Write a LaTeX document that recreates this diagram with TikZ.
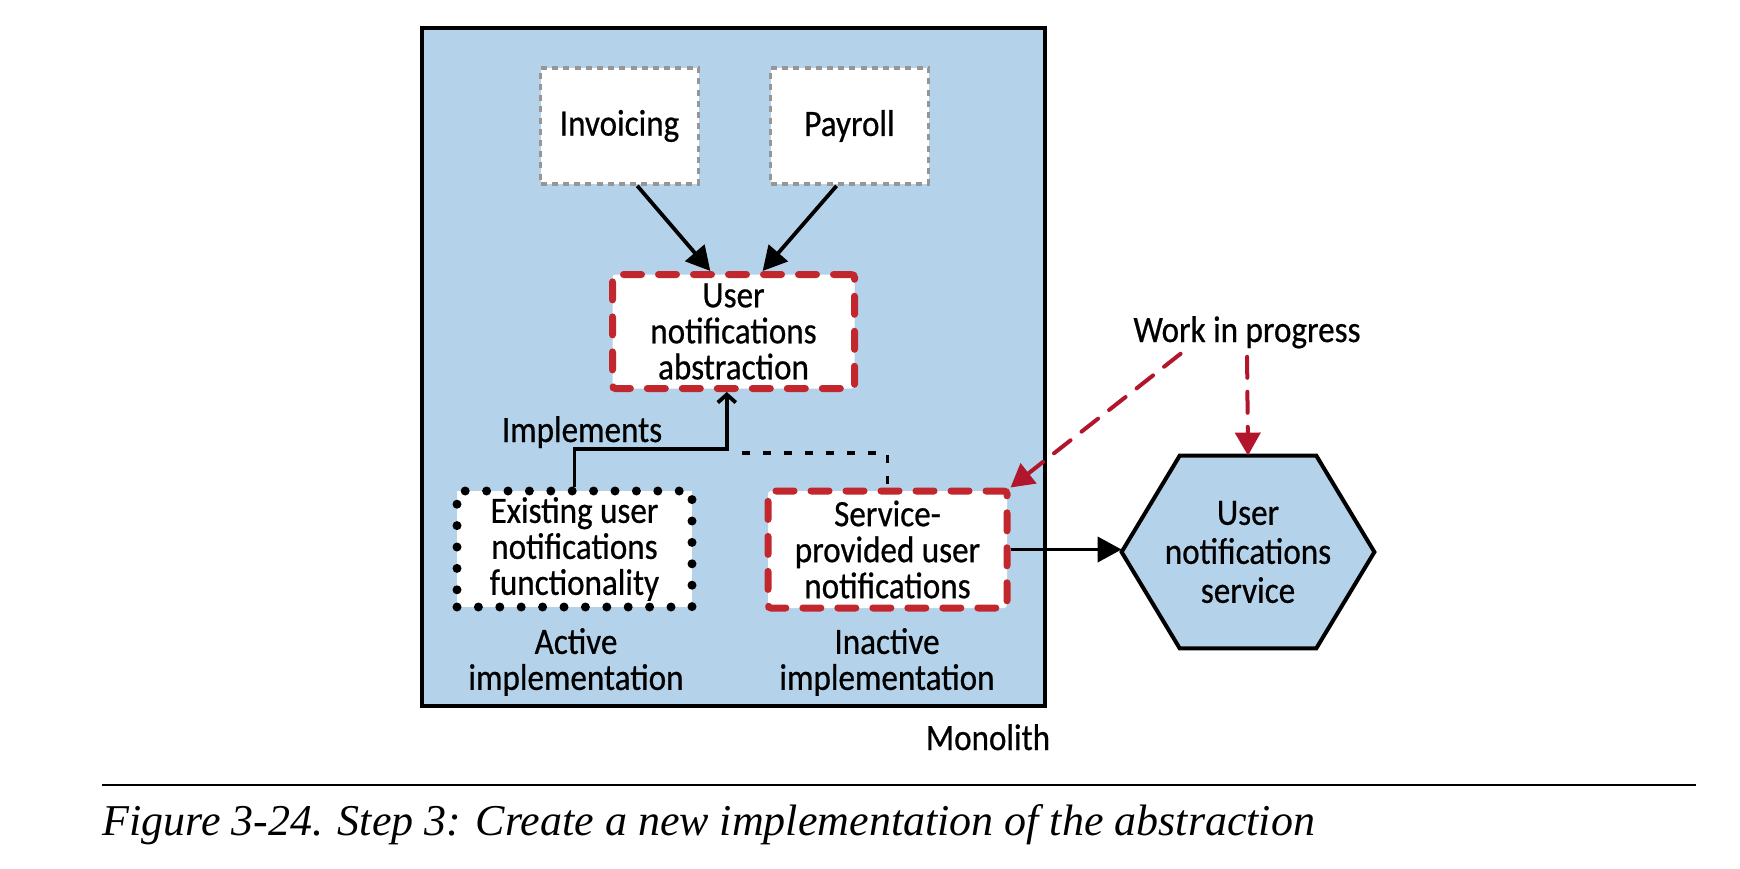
\documentclass[tikz,border=0pt]{standalone}
\usepackage{fontspec}
\setmainfont[FakeStretch=0.89,FakeBold=0.6]{Carlito}
\newfontfamily\capfont{Liberation Serif}
\usetikzlibrary{arrows.meta,calc,backgrounds}
\definecolor{monoblue}{RGB}{180,211,234}
\definecolor{boxred}{RGB}{193,39,45}
\definecolor{arrred}{RGB}{178,22,44}
\definecolor{boxgray}{RGB}{150,150,150}
\begin{document}
\begin{tikzpicture}[x=0.5pt,y=-0.5pt,
  lbl/.style={font=\fontsize{18.6}{18}\selectfont, inner sep=0pt, align=center},
  graybox/.style={lbl, draw=boxgray, line width=1.8pt, dash pattern=on 3pt off 2.6pt, fill=white, minimum width=79pt, minimum height=58pt},
  redbox/.style={lbl, draw=boxred, line width=3.5pt, line cap=round, dash pattern=on 9pt off 8.5pt, fill=white, rounded corners=1.5pt, minimum width=121pt, minimum height=57pt},
  dotbox/.style={lbl, draw=black, line width=4.5pt, line cap=round, dash pattern=on 0pt off 10.7pt, fill=white, minimum width=117.5pt, minimum height=58pt},
  arr/.style={line width=1.9pt, -{Triangle[length=12pt,width=12.5pt]}},
  redarr/.style={draw=arrred, line width=2pt, line cap=round, dash pattern=on 10.5pt off 7pt, -{Triangle[length=11.5pt,width=12.5pt]}},
]
\useasboundingbox (0,0) rectangle (1740,868);
% monolith
\node[draw, fill=monoblue, line width=2pt, minimum width=311.5pt, minimum height=339pt, inner sep=0pt] (mono) at (733.5,367) {};
\node[lbl, anchor=base] (monolbl) at (988,750) {Monolith};
% boxes
\node[graybox] (inv) at (619.5,126) {Invoicing};
\node[graybox] (pay) at (849.5,126) {Payroll};
\node[redbox] (abs) at (733.5,331.5) {User\\notifications\\abstraction};
\node[dotbox] (ex) at (574.5,549) {Existing user\\notifications\\functionality};
\node[redbox, minimum width=119.5pt, minimum height=58.5pt] (svc) at (887.5,549.5) {Service-\\provided user\\notifications};
\node[lbl] (act) at (576,662) {Active\\implementation};
\node[lbl] (inact) at (887,662) {Inactive\\implementation};
\node[lbl, anchor=base] (impl) at (582,442) {Implements};
% hexagon
\node[lbl, font=\fontsize{18.6}{19.5}\selectfont, minimum width=126pt, minimum height=96pt] (hex) at (1248,552) {User\\notifications\\service};
\begin{scope}[on background layer]
\draw[line width=2pt, fill=monoblue, line join=miter] (hex.west) -- ($(hex.north west)!0.23!(hex.north east)$) -- ($(hex.north west)!0.77!(hex.north east)$) -- (hex.east) -- ($(hex.south west)!0.77!(hex.south east)$) -- ($(hex.south west)!0.23!(hex.south east)$) -- cycle;
\end{scope}
\node[lbl, anchor=base] (wip) at (1247,342) {Work in progress};
% connectors
\draw[arr] ($(inv.south west)!0.61!(inv.south east)$) -- ($(abs.north west)!0.407!(abs.north east)$);
\draw[arr] ($(pay.south west)!0.42!(pay.south east)$) -- ($(abs.north west)!0.617!(abs.north east)$);
\coordinate (impk) at (650,449);
\draw[line width=1.9pt, -{Straight Barb[length=4pt,width=9pt]}] (ex.north) |- (impk) -| ($(abs.south west)!0.473!(abs.south east)$);
\coordinate (dots) at (742,453);
\draw[line width=1.7pt, dash pattern=on 4pt off 6.5pt] (dots) -| (svc.north);
\draw[arr] (svc.east) -- (svc.east -| hex.west);
\draw[redarr, shorten <=4pt] ($(wip.south west)!0.236!(wip.south east)$) -- (svc.north east);
\draw[redarr, shorten <=4pt] (wip.south) -- (hex.north);
% rule and caption
\coordinate (rl) at (102,785);
\coordinate (rr) at (1696,785);
\draw[line width=1pt] (rl) -- (rr);
\node[anchor=base west, inner sep=0pt, font=\capfont\itshape\fontsize{22}{24}\selectfont] (cap) at (102,835) {Figure 3-24. Step 3: Create a new implementation of the abstraction};
\end{tikzpicture}
\end{document}
